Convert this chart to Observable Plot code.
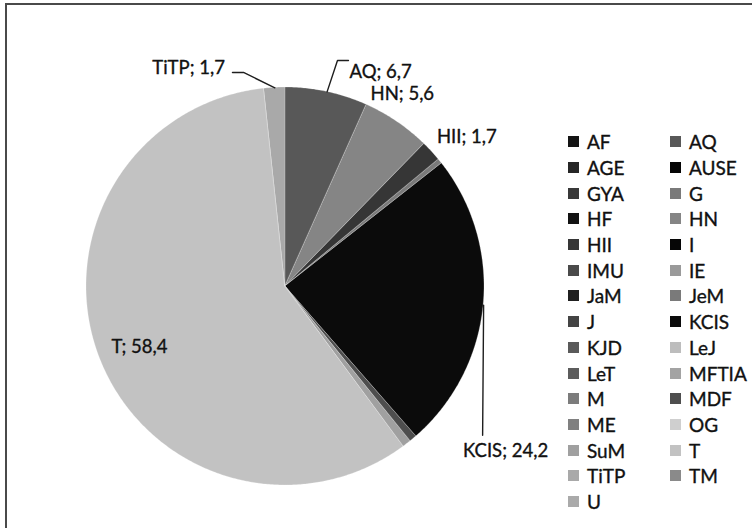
<!DOCTYPE html>
<html>
<head>
<meta charset="utf-8">
<script src="https://cdn.jsdelivr.net/npm/d3@7"></script>
<script src="https://cdn.jsdelivr.net/npm/@observablehq/plot@0.6"></script>
<style>
  html, body { margin: 0; padding: 0; background: #fff; }
  #wrap { position: relative; width: 752px; height: 528px; overflow: hidden; font-family: Lato, "Open Sans", sans-serif; }
  #wrap .bt { position: absolute; left: 5px; top: 3px; right: 0; height: 0; border-top: 2px solid #4a4a4a; }
  #wrap .bl { position: absolute; left: 5px; top: 3px; bottom: 0; width: 0; border-left: 2px solid #4a4a4a; }
  #legend { position: absolute; left: 568px; top: 129px; display: grid; grid-template-columns: 102px 80px; grid-auto-rows: 25.7px; }
  #legend .it { display: flex; align-items: center; font-size: 19px; color: #111; -webkit-text-stroke: 0.35px #111; white-space: nowrap; height: 25.7px; }
  #legend .sw { width: 11px; height: 11px; margin-right: 8px; flex: none; }
  svg { position: absolute; left: 0; top: 0; }
</style>
</head>
<body>
<div id="wrap"><div class="bt"></div><div class="bl"></div></div>
<script>
// Categories (legend order = slice order, clockwise from 12 o'clock)
const categories = ["AF","AQ","AGE","AUSE","GYA","G","HF","HN","HII","I","IMU","IE","JaM","JeM","J","KCIS","KJD","LeJ","LeT","MFTIA","M","MDF","ME","OG","SuM","T","TiTP","TM","U"];
// Percentages (labelled values; unlabelled thin slices estimated)
const values = [0,6.7,0,0,0,0,0,5.6,1.7,0,0,0,0,0.4,0,24.2,0,0,0,0,0,0.6,0,0,0.7,58.4,1.7,0,0];
// Grey shades per category
const colors = ["#141414","#585858","#262626","#050505","#383838","#7a7a7a","#121212","#858585","#363636","#060606","#4a4a4a","#9a9a9a","#202020","#7a7a7a","#444444","#0b0b0b","#5a5a5a","#bdbdbd","#5c5c5c","#a3a3a3","#7c7c7c","#4e4e4e","#808080","#cfcfcf","#a0a0a0","#c2c2c2","#a9a9a9","#8a8a8a","#aaaaaa"];
// Labelled slices and their label text
const labelled = ["AQ","HN","HII","KCIS","T","TiTP"];
const labelText = ["AQ; 6,7","HN; 5,6","HII; 1,7","KCIS; 24,2","T; 58,4","TiTP; 1,7"];

// Label layout (pixel offsets from the slice's mid-arc point)
const R = 199;
const layout = {
  AQ:   {text: [22.4, -19.6], anchor: "start",  leader: [[10.4, -31.4], [21.4, -31.4]]},
  HN:   {text: [5, -28],      anchor: "middle", leader: null},
  HII:  {text: [35, -15],     anchor: "middle", leader: null},
  KCIS: {text: [22, 146],     anchor: "middle", leader: [[-1, 130]]},
  T:    {text: [39.5, -12],   anchor: "middle", leader: null},
  TiTP: {text: [-50, -20],    anchor: "end",    leader: [[-31.4, -15.3], [-42.4, -15.3]]}
};

const data = categories.map((c, i) => ({name: c, value: values[i], color: colors[i]}));
const total = d3.sum(values);
let acc = 0;
data.forEach(d => { d.a0 = acc / total * 2 * Math.PI; acc += d.value; d.a1 = acc / total * 2 * Math.PI; d.mid = (d.a0 + d.a1) / 2; });

// Wedge polygons for the area mark
const wedge = [];
for (const d of data.filter(d => d.value > 0)) {
  const n = Math.max(2, Math.ceil((d.a1 - d.a0) / (Math.PI / 360)));
  for (let k = 0; k <= n; k++) {
    const a = d.a0 + (d.a1 - d.a0) * k / n;
    wedge.push({name: d.name, color: d.color, x1: 0, y1: 0, x2: Math.sin(a), y2: Math.cos(a)});
  }
}

const byName = new Map(data.map(d => [d.name, d]));
const texts = [], leaders = [];
labelled.forEach((nm, i) => {
  const d = byName.get(nm), L = layout[nm];
  const px = Math.sin(d.mid), py = Math.cos(d.mid);
  texts.push({label: labelText[i], anchor: L.anchor, x: px + L.text[0] / R, y: py - L.text[1] / R});
  if (L.leader) {
    leaders.push({name: nm, x: px, y: py});
    for (const [ox, oy] of L.leader) leaders.push({name: nm, x: px + ox / R, y: py - oy / R});
  }
});

const marks = [
  Plot.area(wedge, {x1: "x1", y1: "y1", x2: "x2", y2: "y2", z: "name", fill: "color", stroke: "#ffffff", strokeWidth: 0.4, strokeOpacity: 0.6}),
  Plot.line(leaders, {x: "x", y: "y", z: "name", stroke: "#1e1e1e", strokeWidth: 1.4})
];
for (const a of ["start", "middle", "end"]) {
  marks.push(Plot.text(texts.filter(t => t.anchor === a), {x: "x", y: "y", text: "label", textAnchor: a, fill: "#111", stroke: "#111", strokeWidth: 0.35, fontSize: 18.5}));
}

const chart = Plot.plot({
  width: 752, height: 528,
  margin: 0,
  x: {domain: [-1, 1], range: [86, 484], axis: null},
  y: {domain: [-1, 1], range: [485, 87], axis: null},
  style: {fontFamily: "Lato, 'Open Sans', sans-serif", background: "transparent", overflow: "visible"},
  marks
});

const wrap = document.getElementById("wrap");
wrap.appendChild(chart);

// Legend (HTML, two columns, row-major)
const legend = document.createElement("div");
legend.id = "legend";
data.forEach(d => {
  const it = document.createElement("div");
  it.className = "it";
  const sw = document.createElement("span");
  sw.className = "sw";
  sw.style.background = d.color;
  it.appendChild(sw);
  it.appendChild(document.createTextNode(d.name));
  legend.appendChild(it);
});
wrap.appendChild(legend);
</script>
</body>
</html>
